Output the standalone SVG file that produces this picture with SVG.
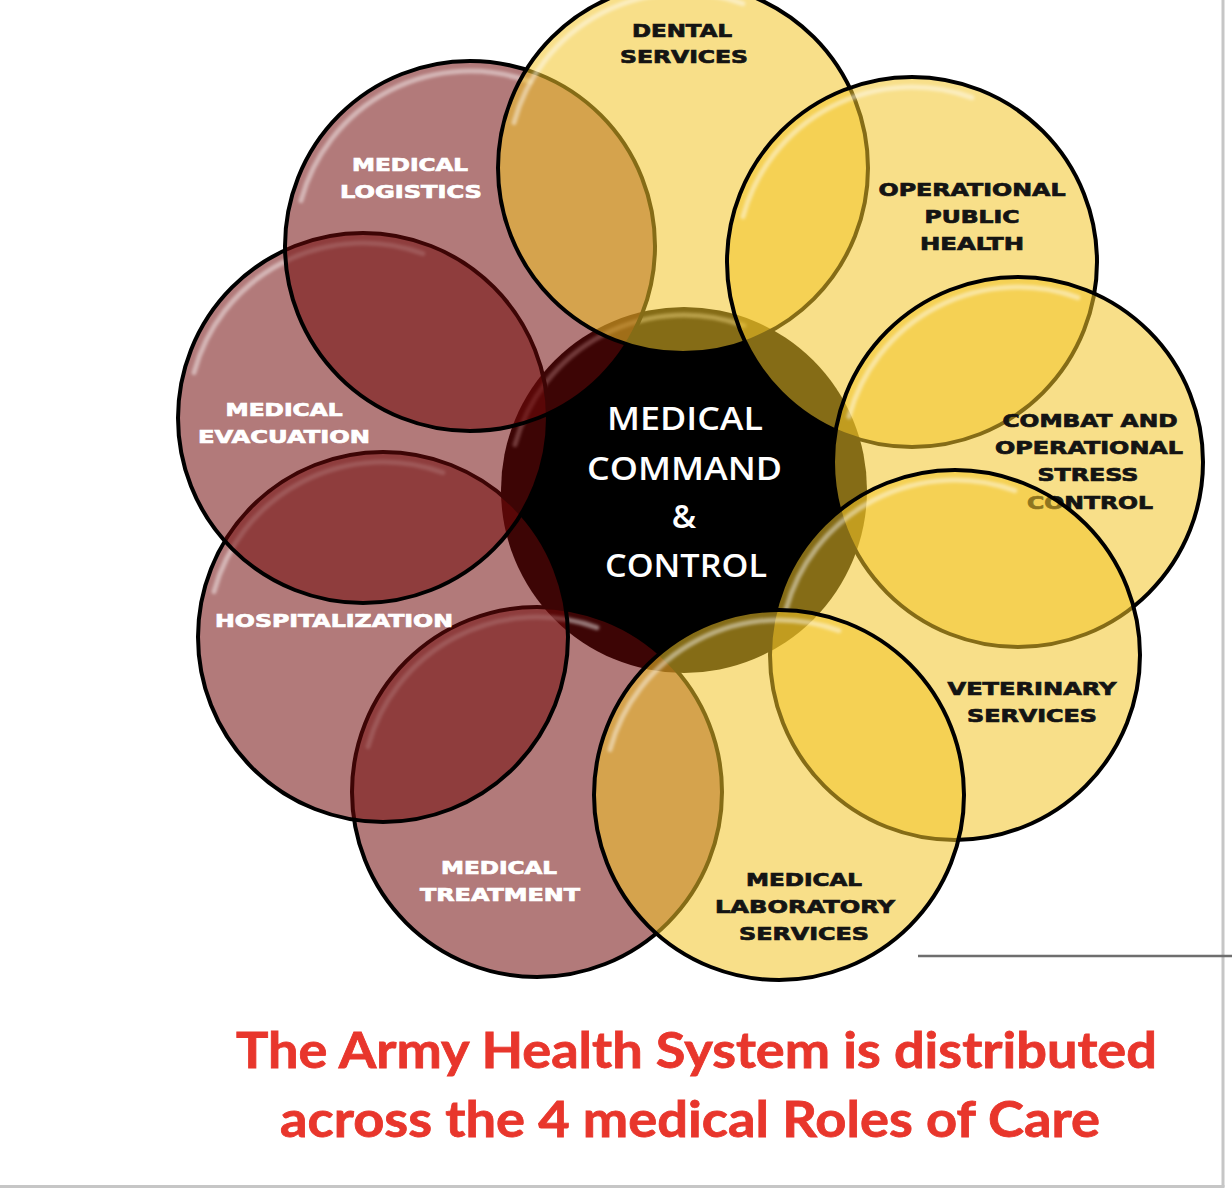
<svg xmlns="http://www.w3.org/2000/svg" xmlns:xlink="http://www.w3.org/1999/xlink" width="1232" height="1200" viewBox="0 0 1232 1200">
<defs>
<style>
.y{fill:rgb(242,196,40);fill-opacity:.55;stroke:#000;stroke-width:4}
.r{fill:rgb(113,9,9);fill-opacity:.54;stroke:#000;stroke-width:4}
.hl{fill:none;stroke:#fff;stroke-opacity:.45;stroke-width:5;stroke-linecap:round;filter:url(#blur)}
.lb{font-family:"DejaVu Sans",sans-serif;font-weight:bold;font-size:17px;text-anchor:middle;stroke-width:0.7}
.lk{fill:#141414;stroke:#141414}
.lw{fill:#fff;stroke:#fff}
.ct{font-family:"Open Sans",sans-serif;font-weight:600;font-size:33px;fill:#fff;text-anchor:middle}
.cap{font-family:Lato,"Liberation Sans",sans-serif;font-weight:bold;font-size:50px;fill:#E8362C;stroke:#E8362C;stroke-width:0.8;text-anchor:middle}
</style>
<filter id="blur" x="-20%" y="-20%" width="140%" height="140%"><feGaussianBlur stdDeviation="1.5"/></filter>
<path id="hl" d="M -169 -45.3 A 175 175 0 0 1 59.9 -164.4"/>
</defs>
<rect width="1232" height="1200" fill="#fff"/>

<g id="frame">
<line x1="1223" y1="0" x2="1223" y2="1187" stroke="#c6c6c6" stroke-width="3"/>
<line x1="0" y1="1186.5" x2="1224.5" y2="1186.5" stroke="#c6c6c6" stroke-width="3"/>
<line x1="918" y1="956" x2="1232" y2="956" stroke="#6e6e6e" stroke-width="2.5"/>
</g>

<g id="connectors"></g>

<g id="center">
<circle cx="684" cy="490" r="183" fill="#000"/>
<use xlink:href="#hl" class="hl" x="684" y="490"/>
</g>

<g id="medical-treatment">
<circle class="r" cx="537" cy="792" r="185"/>
<use xlink:href="#hl" class="hl" x="537" y="792"/>
<text class="lb lw" x="499" y="874" textLength="116" lengthAdjust="spacingAndGlyphs">MEDICAL</text>
<text class="lb lw" x="500" y="901" textLength="160" lengthAdjust="spacingAndGlyphs">TREATMENT</text>
</g>

<g id="hospitalization">
<circle class="r" cx="383" cy="637" r="185"/>
<use xlink:href="#hl" class="hl" x="383" y="637"/>
<text class="lb lw" x="334" y="627" textLength="238" lengthAdjust="spacingAndGlyphs">HOSPITALIZATION</text>
</g>

<g id="medical-evacuation">
<circle class="r" cx="363" cy="418" r="185"/>
<use xlink:href="#hl" class="hl" x="363" y="418"/>
<text class="lb lw" x="284" y="416" textLength="117" lengthAdjust="spacingAndGlyphs">MEDICAL</text>
<text class="lb lw" x="284" y="443" textLength="172" lengthAdjust="spacingAndGlyphs">EVACUATION</text>
</g>

<g id="medical-logistics">
<circle class="r" cx="470" cy="246" r="185"/>
<use xlink:href="#hl" class="hl" x="470" y="246"/>
<text class="lb lw" x="410" y="171" textLength="116" lengthAdjust="spacingAndGlyphs">MEDICAL</text>
<text class="lb lw" x="411" y="198" textLength="142" lengthAdjust="spacingAndGlyphs">LOGISTICS</text>
</g>

<g id="dental-services">
<circle class="y" cx="683" cy="168" r="185"/>
<use xlink:href="#hl" class="hl" x="683" y="168"/>
<text class="lb lk" x="682" y="37" textLength="100" lengthAdjust="spacingAndGlyphs">DENTAL</text>
<text class="lb lk" x="684" y="63" textLength="128" lengthAdjust="spacingAndGlyphs">SERVICES</text>
</g>

<g id="operational-public-health">
<circle class="y" cx="912" cy="262" r="185"/>
<use xlink:href="#hl" class="hl" x="912" y="262"/>
<text class="lb lk" x="972" y="196" textLength="187" lengthAdjust="spacingAndGlyphs">OPERATIONAL</text>
<text class="lb lk" x="972" y="223" textLength="95" lengthAdjust="spacingAndGlyphs">PUBLIC</text>
<text class="lb lk" x="972" y="250" textLength="104" lengthAdjust="spacingAndGlyphs">HEALTH</text>
</g>

<g id="combat-operational-stress-control">
<circle class="y" cx="1018" cy="462" r="185"/>
<use xlink:href="#hl" class="hl" x="1018" y="462"/>
<text class="lb lk" x="1090" y="427" textLength="175" lengthAdjust="spacingAndGlyphs">COMBAT AND</text>
<text class="lb lk" x="1089" y="454" textLength="188" lengthAdjust="spacingAndGlyphs">OPERATIONAL</text>
<text class="lb lk" x="1088" y="481" textLength="101" lengthAdjust="spacingAndGlyphs">STRESS</text>
<text class="lb lk" x="1090" y="509" textLength="126" lengthAdjust="spacingAndGlyphs">CONTROL</text>
</g>

<g id="veterinary-services">
<circle class="y" cx="955" cy="655" r="185"/>
<use xlink:href="#hl" class="hl" x="955" y="655"/>
<text class="lb lk" x="1032" y="695" textLength="169" lengthAdjust="spacingAndGlyphs">VETERINARY</text>
<text class="lb lk" x="1032" y="722" textLength="130" lengthAdjust="spacingAndGlyphs">SERVICES</text>
</g>

<g id="medical-laboratory-services">
<circle class="y" cx="779" cy="795" r="185"/>
<use xlink:href="#hl" class="hl" x="779" y="795"/>
<text class="lb lk" x="804" y="886" textLength="116" lengthAdjust="spacingAndGlyphs">MEDICAL</text>
<text class="lb lk" x="805" y="913" textLength="180" lengthAdjust="spacingAndGlyphs">LABORATORY</text>
<text class="lb lk" x="804" y="940" textLength="130" lengthAdjust="spacingAndGlyphs">SERVICES</text>
</g>

<g id="center-label">
<text class="ct" x="685" y="430" textLength="156" lengthAdjust="spacingAndGlyphs">MEDICAL</text>
<text class="ct" x="684.5" y="480" textLength="195" lengthAdjust="spacingAndGlyphs">COMMAND</text>
<text class="ct" x="684" y="528">&amp;</text>
<text class="ct" x="686" y="577" textLength="162" lengthAdjust="spacingAndGlyphs">CONTROL</text>
</g>

<g id="caption">
<text class="cap" x="696.5" y="1068" textLength="921" lengthAdjust="spacingAndGlyphs">The Army Health System is distributed</text>
<text class="cap" x="690" y="1137" textLength="820" lengthAdjust="spacingAndGlyphs">across the 4 medical Roles of Care</text>
</g>
</svg>
